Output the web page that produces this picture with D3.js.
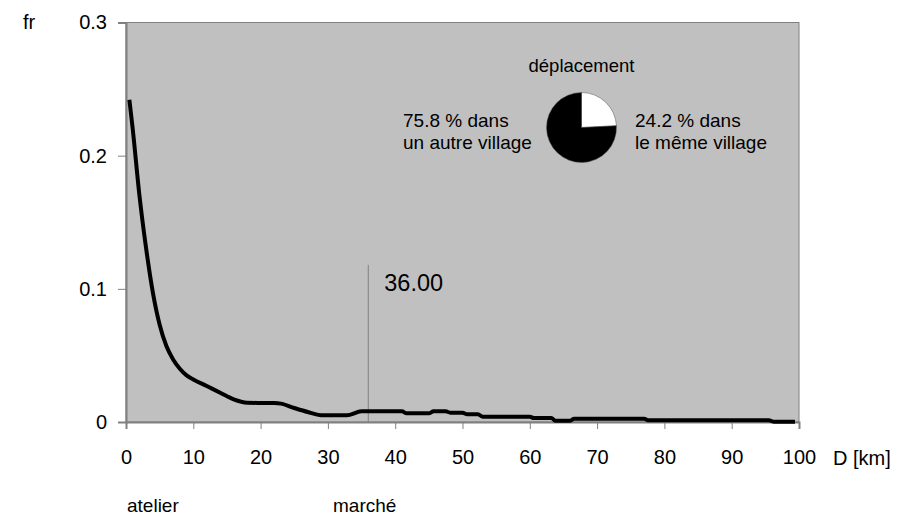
<!DOCTYPE html>
<html><head><meta charset="utf-8">
<script src="https://cdn.jsdelivr.net/npm/d3@7"></script>
<style>body{margin:0;background:#fff}text{font-family:Arial,"Liberation Sans",sans-serif;fill:#000}</style>
</head><body>
<svg id="c" width="902" height="518"></svg>
<script>
const distances = [0.5,1,2,3,4,5,6,7,8,9,10,12,14,16,18,20,22,23,25,27,29.3,32.8,35,41,41.7,45,45.7,47.5,48.2,50,50.7,52.3,53,60,60.6,63.2,63.8,66,66.6,77,77.6,95.5,96.3,99.4];
const frequencies = [0.242,0.22,0.17,0.13,0.097,0.073,0.057,0.047,0.040,0.035,0.032,0.027,0.022,0.017,0.0145,0.0143,0.0142,0.0138,0.0105,0.0075,0.005,0.005,0.008,0.008,0.0065,0.0065,0.008,0.008,0.007,0.007,0.0058,0.0058,0.004,0.004,0.003,0.003,0.001,0.001,0.0025,0.0025,0.0013,0.0013,0.0002,0.0002];
const xTicks = [0,10,20,30,40,50,60,70,80,90,100];
const yTicks = [0,0.1,0.2,0.3];
const marker = 36;
const markerTop = 0.118;
const pieLabels = ["dans le même village","dans un autre village"];
const pieValues = [24.2,75.8];

const svg = d3.select("#c");
const x = d3.scaleLinear().domain([0,100]).range([126,799]);
const y = d3.scaleLinear().domain([0,0.3]).range([422,22.5]);

svg.append("rect").attr("x",x(0)).attr("y",y(0.3)).attr("width",x(100)-x(0)).attr("height",y(0)-y(0.3))
  .attr("fill","#c0c0c0").attr("stroke","#808080").attr("stroke-width",1);

const gx = svg.append("g").attr("transform",`translate(0,${y(0)})`)
  .call(d3.axisBottom(x).tickValues(xTicks).tickSize(7).tickPadding(21).tickFormat(d3.format("d")));
gx.selectAll("text").attr("font-size",20).attr("font-family","Arial, Liberation Sans, sans-serif");
const gy = svg.append("g").attr("transform",`translate(${x(0)},0)`)
  .call(d3.axisLeft(y).tickValues(yTicks).tickSize(8).tickPadding(11).tickFormat(d=>d===0?"0":d3.format(".1f")(d)));
gy.selectAll("text").attr("font-size",20).attr("font-family","Arial, Liberation Sans, sans-serif");
[gx,gy].forEach(g=>{g.selectAll("line").attr("stroke","#808080");g.select(".domain").attr("stroke","#808080").attr("stroke-width",2);});

// marker line
svg.append("line").attr("x1",x(marker)).attr("x2",x(marker)).attr("y1",y(0)).attr("y2",y(markerTop))
  .attr("stroke","#808080").attr("stroke-width",1);
svg.append("text").attr("x",x(marker)+16).attr("y",291).attr("font-size",23.5).text(d3.format(".2f")(marker));

// curve
const pts = distances.map((d,i)=>[d,frequencies[i]]);
svg.append("path").datum(pts).attr("fill","none").attr("stroke","#000").attr("stroke-width",4)
  .attr("stroke-linejoin","round")
  .attr("d",d3.line().x(d=>x(d[0])).y(d=>y(d[1])).curve(d3.curveMonotoneX));

// labels
svg.append("text").attr("x",23).attr("y",29).attr("font-size",20).text("fr");
svg.append("text").attr("x",833).attr("y",465).attr("font-size",20).text("D [km]");
svg.append("text").attr("x",127).attr("y",512).attr("font-size",19).text("atelier");
svg.append("text").attr("x",333).attr("y",512).attr("font-size",19).text("marché");

// pie
const cx=581.5, cy=127.5, r=35;
const pie = d3.pie().sort(null)(pieValues);
const arc = d3.arc().innerRadius(0).outerRadius(r);
svg.append("g").attr("transform",`translate(${cx},${cy})`).selectAll("path").data(pie).join("path")
  .attr("d",arc).attr("fill",(d,i)=>i===0?"#fff":"#000").attr("stroke","#555").attr("stroke-width",0.5);
svg.append("text").attr("x",cx).attr("y",72).attr("text-anchor","middle").attr("font-size",18.5).text("déplacement");
const fmt = d3.format(".1f");
const lt = svg.append("text").attr("font-size",19);
lt.append("tspan").attr("x",403).attr("y",127).text(fmt(pieValues[1])+" % dans");
lt.append("tspan").attr("x",403).attr("y",149).text("un autre village");
const rt = svg.append("text").attr("font-size",19);
rt.append("tspan").attr("x",635).attr("y",127).text(fmt(pieValues[0])+" % dans");
rt.append("tspan").attr("x",635).attr("y",149).text("le même village");
</script>
</body></html>
